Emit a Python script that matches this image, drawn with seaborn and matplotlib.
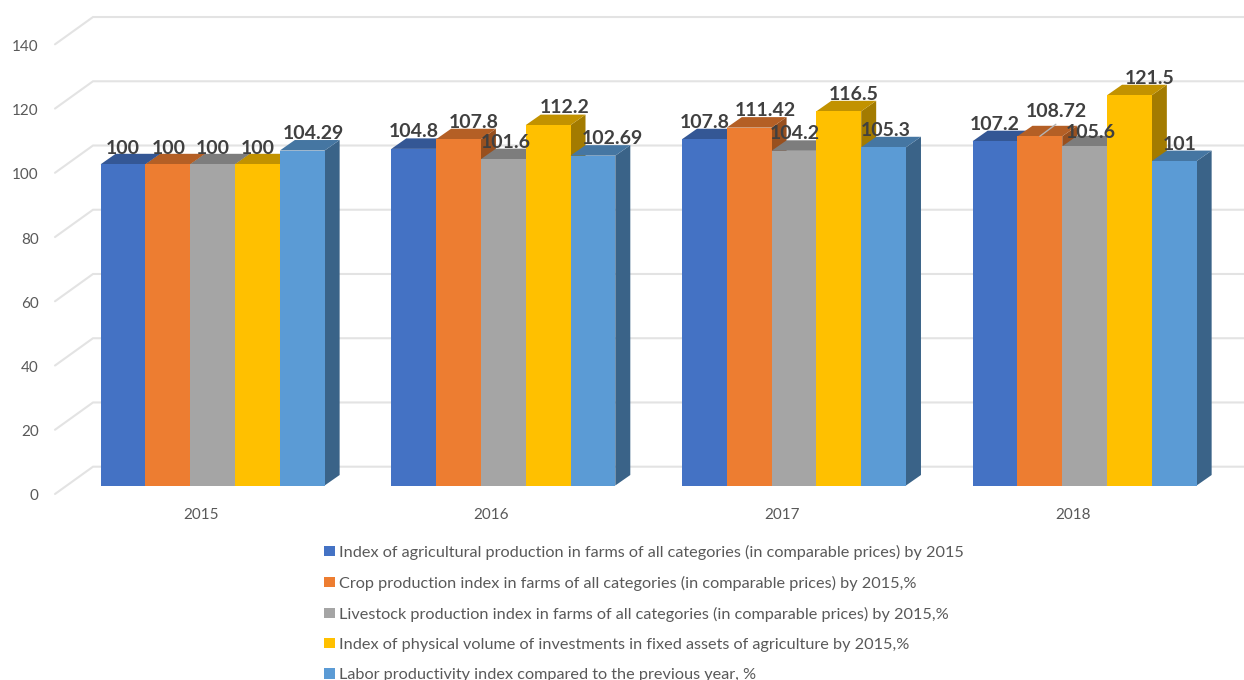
import matplotlib
matplotlib.use("Agg")
import matplotlib.pyplot as plt
import matplotlib.colors as mcolors
from matplotlib.patches import Polygon, Patch
from matplotlib.transforms import ScaledTranslation
import pandas as pd
import seaborn as sns

years = ["2015", "2016", "2017", "2018"]
series_names = [
    "Index of agricultural production in farms of all categories (in comparable prices) by 2015",
    "Crop production index in farms of all categories (in comparable prices) by 2015,%",
    "Livestock production index in farms of all categories (in comparable prices) by 2015,%",
    "Index of physical volume of investments in fixed assets of agriculture by 2015,%",
    "Labor productivity index compared to the previous year, %",
]
agri_index = [100, 104.8, 107.8, 107.2]
crop_index = [100, 107.8, 111.42, 108.72]
livestock_index = [100, 101.6, 104.2, 105.6]
investment_index = [100, 112.2, 116.5, 121.5]
labor_index = [104.29, 102.69, 105.3, 101]
value_labels = [
    ["100", "104.8", "107.8", "107.2"],
    ["100", "107.8", "111.42", "108.72"],
    ["100", "101.6", "104.2", "105.6"],
    ["100", "112.2", "116.5", "121.5"],
    ["104.29", "102.69", "105.3", "101"],
]
y_ticks = [0, 20, 40, 60, 80, 100, 120, 140]

colors = ["#4472C4", "#ED7D31", "#A5A5A5", "#FFC000", "#5B9BD5"]

all_values = [agri_index, crop_index, livestock_index, investment_index, labor_index]
df = pd.DataFrame(
    [
        {"year": y, "series": name, "value": v}
        for name, vals in zip(series_names, all_values)
        for y, v in zip(years, vals)
    ]
)

sns.set_theme(style="white")
plt.rcParams["font.family"] = ["Lato", "DejaVu Sans"]

W, H = 1244, 680
fig = plt.figure(figsize=(W / 100, H / 100), dpi=100)

# Plot box in pixels
PX_PER_CAT = 290.67
PX_PER_UNIT = 3.212
left_px = 67.3
base_px = 485.5
ax = fig.add_axes([
    left_px / W,
    1 - base_px / H,
    4 * PX_PER_CAT / W,
    140 * PX_PER_UNIT / H,
])

sns.barplot(
    data=df, x="year", y="value", hue="series", hue_order=series_names,
    palette=colors, width=224 / PX_PER_CAT, gap=0, dodge=True,
    saturation=1, errorbar=None, linewidth=0, ax=ax,
)
ax.set_xlim(-0.5, 3.5)
ax.set_ylim(0, 140)
ax.set_xlabel("")
ax.set_ylabel("")
sns.despine(ax=ax, left=True, bottom=True)
ax.patch.set_alpha(0)


def xu(px):
    return px / PX_PER_CAT


def yu(px):
    return px / PX_PER_UNIT


# Wall and floor grid
front_x = -0.5 + xu(55 - left_px)
back_x = -0.5 + xu(93 - left_px)
far_x = -0.5 + xu(W + 5 - left_px)
for t in y_ticks:
    ax.plot(
        [front_x, back_x, far_x],
        [t - yu(8.5), t + yu(18.8), t + yu(18.8)],
        color="#E3E3E3", lw=1.5, clip_on=False, zorder=1,
        solid_joinstyle="miter",
    )


def shade(c, f):
    r, g, b = mcolors.to_rgb(c)
    return (r * f, g * f, b * f)


# Depth faces of each bar, built from the bars seaborn drew
dx = xu(15)
dy = yu(10.5)
containers = ax.containers
for h, cont in enumerate(containers):
    col = colors[h]
    for bar in cont:
        x0 = bar.get_x()
        x1 = x0 + bar.get_width()
        top = bar.get_height()
        z = 3 + h
        ax.add_patch(Polygon(
            [(x1, 0), (x1 + dx, dy), (x1 + dx, top + dy), (x1, top)],
            closed=True, fc=shade(col, 0.64), ec="none", clip_on=False, zorder=z,
        ))
        ax.add_patch(Polygon(
            [(x0, top), (x0 + dx, top + dy), (x1 + dx, top + dy), (x1, top)],
            closed=True, fc=shade(col, 0.76), ec="none", clip_on=False, zorder=z,
        ))
        bar.set_zorder(z + 0.5)
        bar.set_clip_on(False)

# Data labels: pixel nudges from the bar's top centre (series x year)
x_nudge = [
    [0, 0, 0, 0],
    [1, 15, 16, 16],
    [0, 2, 1, 6],
    [0, 17, 15, 20],
    [11, 19, 2, 5],
]
y_nudge = [
    [16, 17, 17, 17],
    [16, 17, 17, 25],
    [16, 17, 17, 14],
    [16, 18, 17, 17],
    [17, 17, 17, 17],
]
for h, cont in enumerate(containers):
    for g, bar in enumerate(cont):
        cx = bar.get_x() + bar.get_width() / 2
        top = bar.get_height()
        is_leader = (h == 1 and g == 3)
        ax.annotate(
            value_labels[h][g],
            xy=(cx, top),
            xytext=(x_nudge[h][g] * 0.72, y_nudge[h][g] * 0.72),
            textcoords="offset points",
            ha="center", va="center",
            fontsize=14, fontweight="bold", color="#404040",
            zorder=20, annotation_clip=False,
        )
        if is_leader:
            ax.plot(
                [cx, cx + xu(16)], [top, top + yu(12)],
                color="#B5B5B5", lw=1, zorder=19, clip_on=False,
            )

# Axis labels
ax.set_yticks(y_ticks)
ax.set_yticklabels([str(t) for t in y_ticks])
ax.tick_params(axis="y", length=0, pad=20.5, labelsize=11, labelcolor="#595959")
ax.tick_params(axis="x", length=0, pad=16.5, labelsize=11, labelcolor="#595959")
shift_y = ScaledTranslation(0, -9.5 / 100, fig.dpi_scale_trans)
for lab in ax.get_yticklabels():
    lab.set_transform(lab.get_transform() + shift_y)
shift_x = ScaledTranslation(-12 / 100, 0, fig.dpi_scale_trans)
for lab in ax.get_xticklabels():
    lab.set_transform(lab.get_transform() + shift_x)

# Legend
handles = [Patch(fc=c, ec="none") for c in colors]
ax.legend(
    handles, series_names, loc="upper left",
    bbox_to_anchor=(324.5 / W, 1 - 544.5 / H), bbox_transform=fig.transFigure,
    frameon=False, fontsize=11.7, labelcolor="#595959",
    borderpad=0, borderaxespad=0, handlelength=0.62, handleheight=0.62,
    handletextpad=0.27, labelspacing=0.99,
)

fig.savefig("out.png", dpi=100)
